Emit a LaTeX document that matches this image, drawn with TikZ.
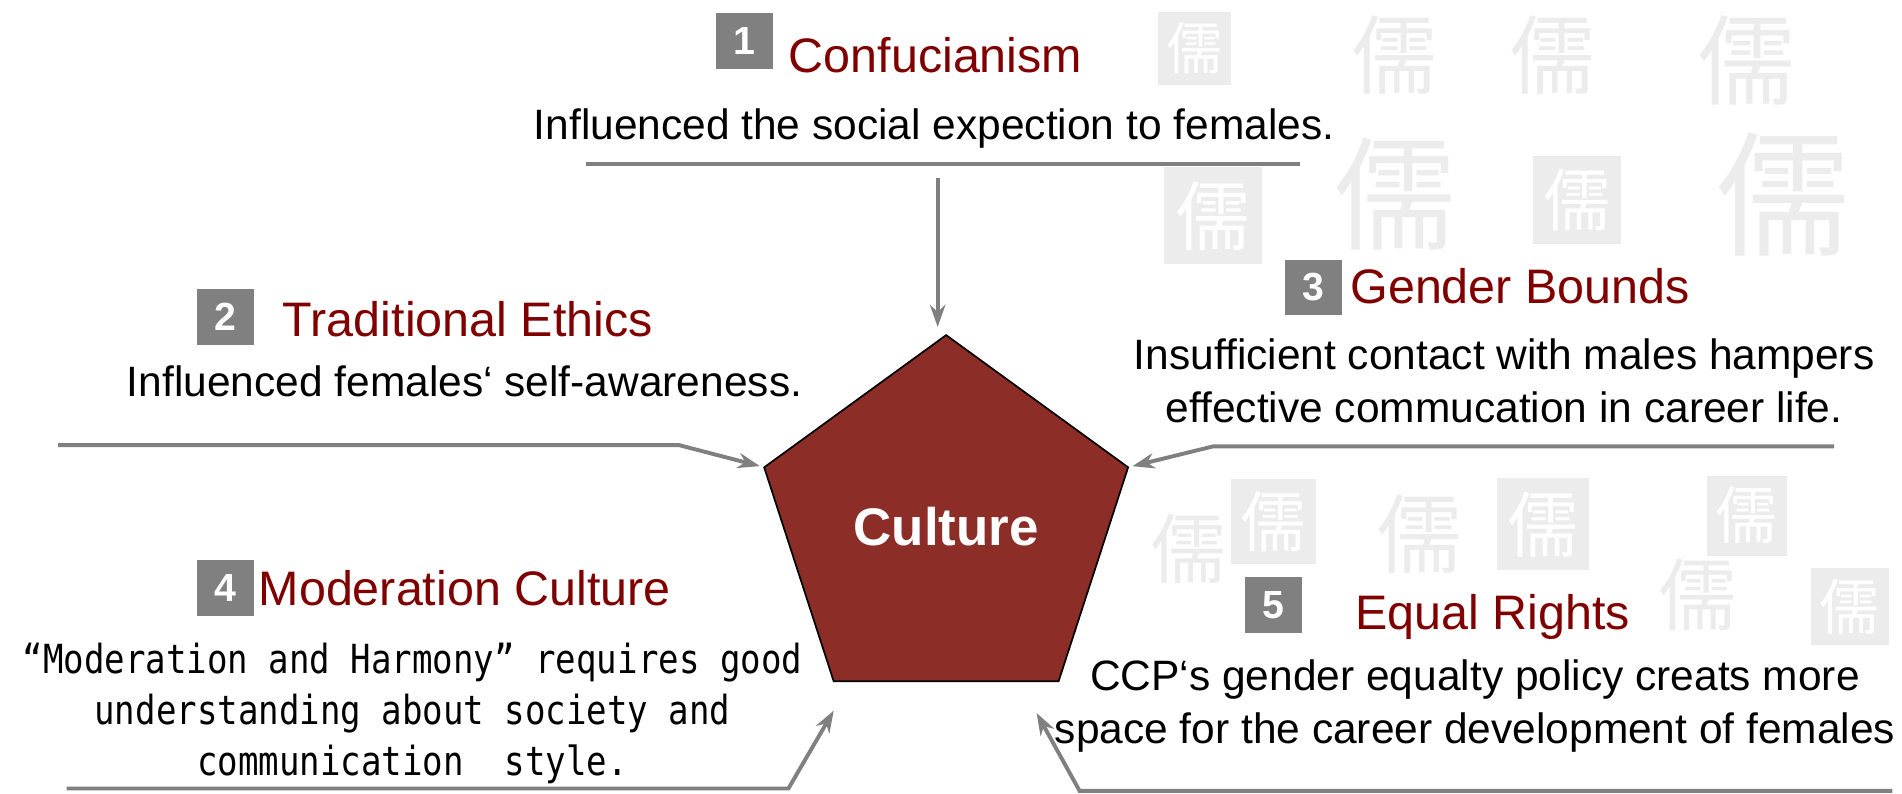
\documentclass[tikz,border=0pt]{standalone}
\usepackage{fontspec}
\setmainfont{Liberation Sans}
\newfontfamily\monofont[FakeStretch=0.85]{DejaVu Sans Mono}
\newfontfamily\cjkfont{Noto Sans CJK SC}
\usepackage{xcolor}
\usetikzlibrary{shapes.geometric,arrows.meta,calc,positioning}

\definecolor{titlered}{RGB}{128,0,0}
\definecolor{culturered}{RGB}{140,46,39}
\definecolor{boxgray}{RGB}{128,128,128}
\definecolor{bggray}{RGB}{236,236,236}

\tikzset{
    numbox/.style={fill=boxgray, text=white, font=\bfseries\fontsize{23}{23}\selectfont,
        minimum width=1.175cm, minimum height=1.15cm, inner sep=0pt},
    heading/.style={text=titlered, font=\fontsize{28.4}{34}\selectfont, anchor=base west, inner sep=0pt},
    bodytext/.style={font=\fontsize{24.9}{30.6}\selectfont, align=center, inner sep=0pt},
    link/.style={draw=boxgray, line width=2.3pt, -{Stealth[length=13pt,width=9pt]}, shorten >=2pt},
    bgseal/.style={fill=bggray, text=white, inner sep=0pt},
    bgchar/.style={text=bggray, inner sep=0pt}
}

\begin{document}
\begin{tikzpicture}[x=0.025cm, y=-0.025cm]
    \useasboundingbox (0,0) rectangle (1568,654);

    % Background seals and characters
    \foreach \x/\y/\s [count=\i] in {985/40/60, 1000/178/80, 1300/165/72, 1440/425/66,
        1050/430/70, 1272/432/76, 1525/500/64} {
        \pgfmathsetmacro\fs{0.55*\s}
        \node[bgseal, minimum size=\s*0.025cm, font=\cjkfont\fontsize{\fs}{\fs}\selectfont] (seal\i) at (\x,\y) {儒};
    }
    \foreach \x/\y/\s [count=\i] in {1150/45/70, 1280/45/70, 1440/50/80, 1150/160/100,
        1470/160/110, 980/452/62, 1170/440/70, 1400/490/64} {
        \pgfmathsetmacro\fs{0.72*\s}
        \node[bgchar, font=\cjkfont\fontsize{\fs}{\fs}\selectfont] (char\i) at (\x,\y) {儒};
    }

    % Centre
    \node[regular polygon, regular polygon sides=5, minimum size=7.885cm, inner sep=0pt,
        fill=culturered, draw=black, line width=1pt, text=white,
        font=\bfseries\fontsize{31}{31}\selectfont] (cult) at (780,434) {Culture};

    % 1 Confucianism
    \node[numbox] (n1) at (613.5,34) {1};
    \node[heading] (t1) at (650,60) {Confucianism};
    \node[bodytext, anchor=base] (d1) at (770,115) {Influenced the social expection to females.};
    \draw[draw=boxgray, line width=2.3pt] (483,135) -- (1072,135);
    \coordinate (a1) at (773,147);
    \draw[link] (a1) -- ($(cult.corner 1)+(-7,-3)$);

    % 2 Traditional Ethics
    \node[numbox] (n2) at (186,261) {2};
    \node[heading] (t2) at (233,277) {Traditional Ethics};
    \node[bodytext, anchor=base] (d2) at (383,327) {Influenced females‘ self-awareness.};
    \coordinate (a2) at (48,367);
    \coordinate (k2) at (560,367);
    \draw[link] (a2) -- (k2) -- (cult.corner 2);

    % 3 Gender Bounds
    \node[numbox] (n3) at (1082.5,237) {3};
    \node[heading] (t3) at (1113,250) {Gender Bounds};
    \node[bodytext] (d3) at (1240,314) {Insufficient contact with males hampers\\effective commucation in career life.};
    \coordinate (a3) at (1512,368);
    \coordinate (k3) at (1000,368);
    \draw[link] (a3) -- (k3) -- (cult.corner 5);

    % 4 Moderation Culture
    \node[numbox] (n4) at (186,484.5) {4};
    \node[heading] (t4) at (213,499) {Moderation Culture};
    \node[align=center, inner sep=0pt, font=\monofont\fontsize{23.5}{29.9}\selectfont] (d4) at (340,588)
        {“Moderation and Harmony” requires good\\understanding about society and\\communication\ \ style.};
    \coordinate (a4) at (55,650);
    \coordinate (k4) at (650,650);
    \draw[link] (a4) -- (k4) -- ($(cult.corner 3)+(2,21)$);

    % 5 Equal Rights
    \node[numbox] (n5) at (1050,498.5) {5};
    \node[heading] (t5) at (1117,519) {Equal Rights};
    \node[bodytext] (d5) at (1216,582) {CCP‘s gender equalty policy creats more\\space for the career development of females};
    \coordinate (a5) at (1560,652);
    \coordinate (k5) at (890,652);
    \draw[link] (a5) -- (k5) -- ($(cult.corner 4)+(-20,23)$);
\end{tikzpicture}
\end{document}
